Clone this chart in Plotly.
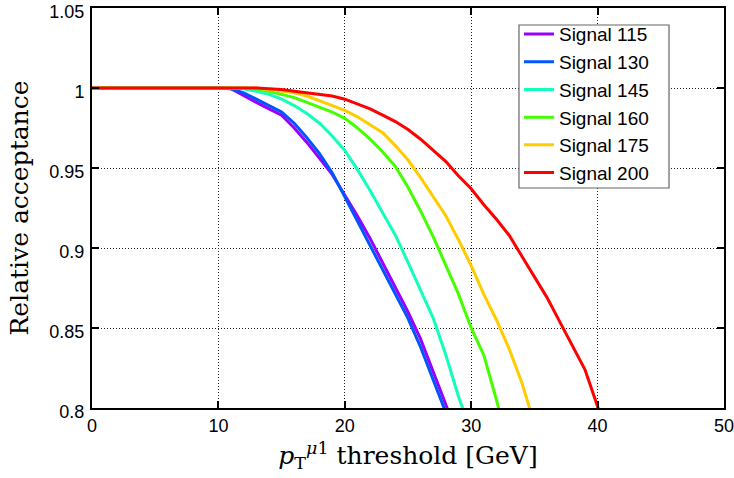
import plotly.graph_objects as go

x_thr = list(range(0, 42))

names = ["Signal 115", "Signal 130", "Signal 145", "Signal 160", "Signal 175", "Signal 200"]
colors = ["#9900FF", "#0055FF", "#11FFBB", "#44FF00", "#FFCC00", "#FF0000"]

flat = [1.0] * 10  # thresholds 0..9

sig115 = flat + [1.0, 0.9995, 0.995, 0.991, 0.987, 0.983, 0.975, 0.966, 0.956, 0.946,
                 0.933, 0.920, 0.906, 0.891, 0.876, 0.860, 0.843, 0.823, 0.802, 0.780]
sig130 = flat + [1.0, 0.9995, 0.997, 0.993, 0.989, 0.985, 0.978, 0.969, 0.959, 0.947,
                 0.932, 0.917, 0.902, 0.887, 0.872, 0.856, 0.838, 0.818, 0.797]
sig145 = flat + [1.0, 1.0, 0.9995, 0.998, 0.996, 0.993, 0.989, 0.984, 0.978, 0.970,
                 0.961, 0.949, 0.936, 0.922, 0.908, 0.891, 0.874, 0.856, 0.833, 0.807, 0.785]
sig160 = flat + [1.0, 1.0, 1.0, 0.9995, 0.998, 0.996, 0.994, 0.991, 0.988, 0.985,
                 0.981, 0.975, 0.968, 0.960, 0.951, 0.938, 0.923, 0.907, 0.889, 0.871,
                 0.850, 0.833, 0.805, 0.775]
sig175 = flat + [1.0, 1.0, 1.0, 1.0, 0.999, 0.998, 0.997, 0.995, 0.992, 0.989,
                 0.986, 0.982, 0.977, 0.972, 0.964, 0.955, 0.944, 0.932, 0.920, 0.905,
                 0.889, 0.871, 0.855, 0.837, 0.816, 0.790]
sig200 = flat + [1.0, 1.0, 1.0, 1.0, 0.9995, 0.999, 0.998, 0.997, 0.996, 0.995,
                 0.993, 0.990, 0.987, 0.983, 0.979, 0.974, 0.968, 0.961, 0.954, 0.945,
                 0.937, 0.927, 0.918, 0.908, 0.895, 0.882, 0.869, 0.854, 0.839, 0.824,
                 0.801, 0.770]

series = [sig115, sig130, sig145, sig160, sig175, sig200]

x_ticks = [0, 10, 20, 30, 40, 50]
y_ticks = [0.8, 0.85, 0.9, 0.95, 1.0, 1.05]
y_tick_text = ["0.8", "0.85", "0.9", "0.95", "1", "1.05"]

fig = go.Figure()
for name, col, ys in zip(names, colors, series):
    fig.add_trace(go.Scatter(
        x=x_thr[:len(ys)], y=ys, mode="lines", name=name,
        line=dict(color=col, width=3),
    ))

axis_common = dict(
    automargin=False,
    ticklabeloverflow="allow",
    showline=True, linecolor="black", linewidth=2, mirror="ticks",
    ticks="inside", ticklen=7, tickwidth=1.5, tickcolor="black",
    showgrid=True, gridcolor="#222222", griddash="1px,2px", gridwidth=1,
    zeroline=False,
    tickfont=dict(family="Liberation Sans, Arial, sans-serif", size=18, color="black"),
)

fig.update_xaxes(
    range=[0, 50], tickvals=x_ticks, ticklabelstandoff=0,
    title=dict(text="<i>p</i><sub>T</sub><sup><i>μ</i>1</sup> threshold [GeV]",
               font=dict(family="DejaVu Serif, Liberation Serif, serif", size=25, color="black"),
               standoff=12),
    **axis_common,
)
fig.update_yaxes(
    range=[0.8, 1.05], tickvals=y_ticks, ticktext=y_tick_text,
    ticklabelstandoff=2, ticklabelshift=4,
    title=dict(text="Relative acceptance",
               font=dict(family="DejaVu Serif, Liberation Serif, serif", size=25, color="black"),
               standoff=14),
    **axis_common,
)

# legend frame (drawn as a shape so the entries can sit tight inside it)
fig.add_shape(type="rect", xref="paper", yref="paper",
              x0=0.6756, x1=0.913, y0=0.55, y1=0.9575,
              line=dict(color="#666666", width=1.2), fillcolor="white", layer="above")

fig.update_layout(
    width=734, height=478,
    margin=dict(l=92, r=10, t=8, b=70),
    paper_bgcolor="white", plot_bgcolor="white",
    showlegend=True,
    legend=dict(
        x=0.6756, y=0.982, xanchor="left", yanchor="top",
        bgcolor="rgba(0,0,0,0)", borderwidth=0,
        font=dict(family="Liberation Sans, Arial, sans-serif", size=19, color="black"),
        tracegroupgap=0,
    ),
)

fig.write_html("out.html", config={"displayModeBar": False},
               post_script="document.body.style.margin='0';document.body.style.overflow='hidden';")
